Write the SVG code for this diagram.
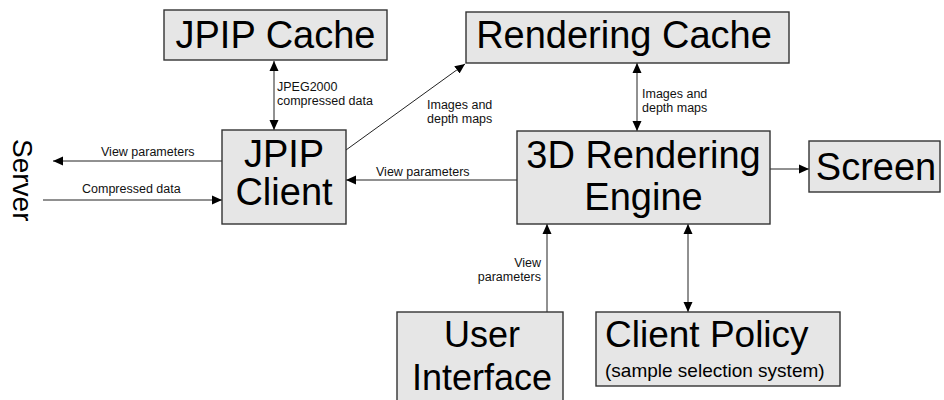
<svg xmlns="http://www.w3.org/2000/svg" width="944" height="400" viewBox="0 0 944 400">
  <style>
    .box { fill: #e6e6e6; stroke: #333; stroke-width: 1.4; }
    .big { font-family: "Liberation Sans", Arial, sans-serif; font-size: 38px; fill: #000; }
    .small { font-family: "Liberation Sans", Arial, sans-serif; font-size: 12.5px; fill: #111; }
    .wire { stroke: #222; stroke-width: 1; fill: none; }
  </style>
  <defs>
    <marker id="head" viewBox="0 0 10 10" refX="10" refY="5" markerWidth="10" markerHeight="10" markerUnits="userSpaceOnUse" orient="auto-start-reverse">
      <path d="M0,0.5 L10,5 L0,9.5 Z" fill="#000"/>
    </marker>
  </defs>
  <rect width="944" height="400" fill="#fff"/>

  <!-- connectors -->
  <g id="connectors">
    <line class="wire" x1="274" y1="61" x2="274" y2="130" marker-start="url(#head)" marker-end="url(#head)"/>
    <line class="wire" x1="222" y1="161" x2="53" y2="161" marker-end="url(#head)"/>
    <line class="wire" x1="43" y1="200" x2="222" y2="200" marker-end="url(#head)"/>
    <line class="wire" x1="346" y1="150" x2="465" y2="64" marker-end="url(#head)"/>
    <line class="wire" x1="517" y1="180" x2="346" y2="180" marker-end="url(#head)"/>
    <line class="wire" x1="637" y1="63" x2="637" y2="131" marker-start="url(#head)" marker-end="url(#head)"/>
    <line class="wire" x1="770" y1="169" x2="809" y2="169" marker-end="url(#head)"/>
    <line class="wire" x1="547" y1="312" x2="547" y2="224" marker-end="url(#head)"/>
    <line class="wire" x1="688" y1="224" x2="688" y2="312" marker-start="url(#head)" marker-end="url(#head)"/>

    <text class="small" x="277" y="91">JPEG2000</text>
    <text class="small" x="277" y="105">compressed data</text>
    <text class="small" x="101" y="156">View parameters</text>
    <text class="small" x="82" y="193">Compressed data</text>
    <text class="small" x="427" y="109">Images and</text>
    <text class="small" x="427" y="123">depth maps</text>
    <text class="small" x="376" y="176">View parameters</text>
    <text class="small" x="642" y="98">Images and</text>
    <text class="small" x="642" y="112">depth maps</text>
    <text class="small" x="541" y="267" text-anchor="end">View</text>
    <text class="small" x="541" y="281" text-anchor="end">parameters</text>
  </g>

  <!-- nodes -->
  <g id="server">
    <text class="big" transform="translate(13,139) rotate(90)" style="font-size:28px">Server</text>
  </g>

  <g id="jpip-cache">
    <rect class="box" x="164" y="10" width="223" height="50"/>
    <text class="big" x="275.5" y="48" text-anchor="middle">JPIP Cache</text>
  </g>

  <g id="rendering-cache">
    <rect class="box" x="466" y="12" width="323" height="51"/>
    <text class="big" x="624" y="48" text-anchor="middle">Rendering Cache</text>
  </g>

  <g id="jpip-client">
    <rect class="box" x="222" y="130" width="124" height="94"/>
    <text class="big" x="284" y="167" text-anchor="middle">JPIP</text>
    <text class="big" x="284" y="205" text-anchor="middle">Client</text>
  </g>

  <g id="rendering-engine">
    <rect class="box" x="517" y="131" width="253" height="93"/>
    <text class="big" x="643.5" y="168" text-anchor="middle">3D Rendering</text>
    <text class="big" x="643.5" y="210" text-anchor="middle">Engine</text>
  </g>

  <g id="screen">
    <rect class="box" x="809" y="141" width="131" height="51"/>
    <text class="big" x="876" y="180" text-anchor="middle">Screen</text>
  </g>

  <g id="user-interface">
    <rect class="box" x="397" y="312" width="166" height="100"/>
    <text class="big" x="482" y="347" text-anchor="middle" style="font-size:36px">User</text>
    <text class="big" x="482" y="390" text-anchor="middle" style="font-size:36px">Interface</text>
  </g>

  <g id="client-policy">
    <rect class="box" x="596" y="312" width="244" height="74"/>
    <text class="big" x="605" y="347" style="font-size:37px">Client Policy</text>
    <text class="big" x="605" y="377" style="font-size:19px">(sample selection system)</text>
  </g>
</svg>
